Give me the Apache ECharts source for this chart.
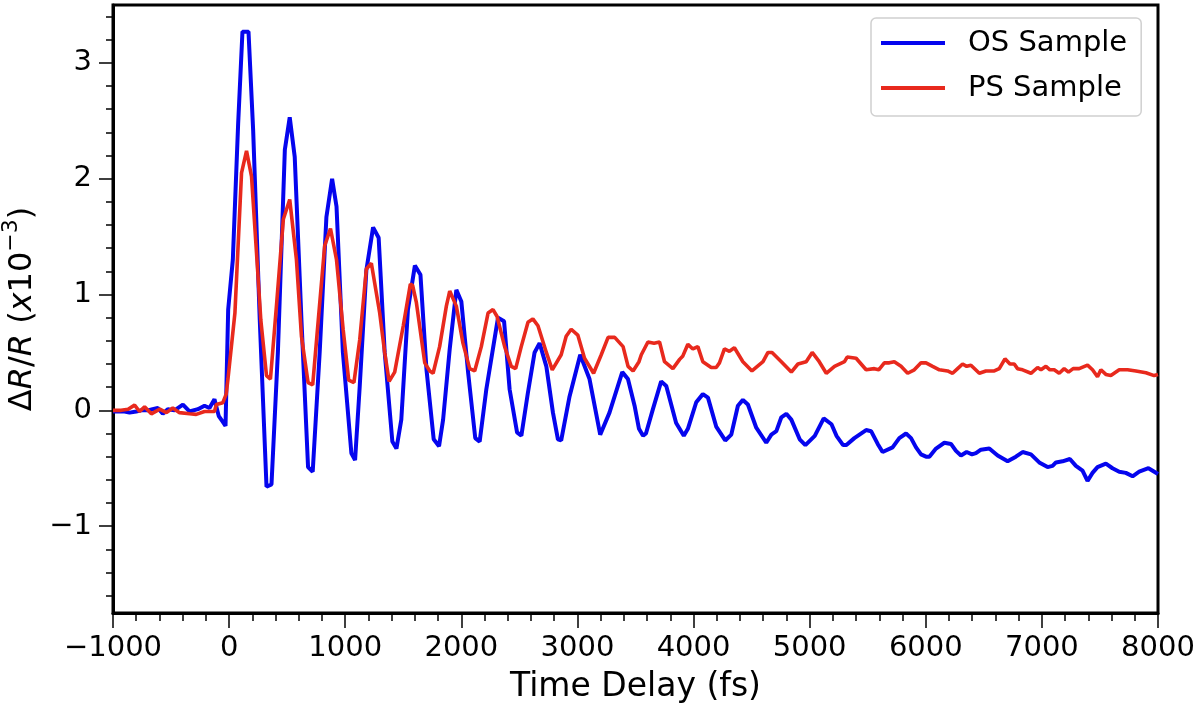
<!DOCTYPE html>
<html>
<head>
<meta charset="utf-8">
<title>Time Delay</title>
<script src="https://cdn.jsdelivr.net/npm/echarts@6/dist/echarts.min.js"></script>
<style>
    html, body { margin: 0; padding: 0; background: #fff; }
    #chart { width: 1200px; height: 710px; }
</style>
</head>
<body>
<div id="chart"></div>
<script>
// 数据：[时间延迟 fs, ΔR/R (x10^-3)]
let osSample = [
    [-1000, -0.01], [-950, -0.01], [-900, -0.01], [-857, -0.02], [-800, -0.01], [-757, 0.0],
    [-700, 0.0], [-660, 0.01], [-614, 0.02], [-571, -0.03], [-528, 0.01], [-470, 0.0],
    [-398, 0.05], [-341, -0.01], [-269, 0.01], [-212, 0.04], [-169, 0.02], [-126, 0.095],
    [-89, -0.05], [-54, -0.1], [-31, -0.135], [-8, 0.87], [32, 1.3], [78, 2.48],
    [115, 3.27], [167, 3.27], [207, 2.42], [264, 0.78], [322, -0.66], [365, -0.64],
    [420, 0.5], [480, 2.25], [522, 2.53], [565, 2.19], [623, 0.78], [680, -0.49],
    [720, -0.53], [780, 0.5], [838, 1.67], [887, 2.0], [925, 1.76], [980, 0.5],
    [1053, -0.37], [1085, -0.43], [1125, 0.21], [1182, 1.21], [1240, 1.58], [1288, 1.49],
    [1340, 0.5], [1406, -0.27], [1441, -0.33], [1483, -0.08], [1540, 0.87], [1600, 1.25],
    [1648, 1.17], [1700, 0.35], [1762, -0.25], [1808, -0.31], [1843, -0.08], [1900, 0.53],
    [1957, 1.04], [2000, 0.94], [2058, 0.33], [2120, -0.24], [2158, -0.27], [2215, 0.18],
    [2316, 0.80], [2368, 0.77], [2416, 0.18], [2480, -0.19], [2517, -0.22], [2573, 0.15],
    [2631, 0.5], [2674, 0.58], [2732, 0.38], [2789, -0.02], [2832, -0.25], [2860, -0.26],
    [2932, 0.12], [3024, 0.48], [3104, 0.27], [3196, -0.21], [3276, -0.02], [3386, 0.33],
    [3435, 0.27], [3492, 0.04], [3530, -0.16], [3565, -0.22], [3590, -0.2], [3650, 0.01],
    [3721, 0.25], [3765, 0.21], [3850, -0.11], [3916, -0.22], [3951, -0.16], [4023, 0.07],
    [4080, 0.14], [4124, 0.11], [4195, -0.14], [4273, -0.26], [4325, -0.21], [4382, 0.04],
    [4425, 0.09], [4468, 0.05], [4540, -0.15], [4626, -0.28], [4670, -0.21], [4713, -0.18],
    [4756, -0.06], [4799, -0.03], [4842, -0.08], [4914, -0.25], [4963, -0.30], [5044, -0.22],
    [5121, -0.07], [5188, -0.12], [5231, -0.22], [5288, -0.30], [5316, -0.30], [5385, -0.24],
    [5486, -0.17], [5529, -0.18], [5586, -0.29], [5628, -0.36], [5714, -0.32], [5772, -0.24],
    [5830, -0.20], [5873, -0.24], [5916, -0.32], [5959, -0.38], [6002, -0.40], [6031, -0.40],
    [6088, -0.33], [6160, -0.28], [6217, -0.29], [6260, -0.35], [6303, -0.39], [6352, -0.36],
    [6398, -0.38], [6432, -0.37], [6475, -0.34], [6547, -0.33], [6619, -0.39], [6705, -0.44],
    [6776, -0.40], [6834, -0.36], [6906, -0.38], [6977, -0.45], [7049, -0.49], [7092, -0.48],
    [7121, -0.45], [7178, -0.44], [7241, -0.42], [7293, -0.48], [7350, -0.52], [7393, -0.61],
    [7436, -0.54], [7479, -0.49], [7551, -0.46], [7608, -0.50], [7666, -0.53], [7723, -0.54],
    [7781, -0.57], [7838, -0.53], [7918, -0.50], [8000, -0.55]
];

let psSample = [
    [-1000, 0.0], [-930, 0.0], [-870, 0.01], [-814, 0.045], [-771, -0.01], [-728, 0.03],
    [-670, -0.03], [-597, 0.01], [-540, -0.02], [-485, 0.02], [-427, -0.02], [-341, -0.03],
    [-283, -0.035], [-212, -0.01], [-126, -0.01], [-110, 0.05], [-54, 0.066], [-25, 0.14],
    [-10, 0.27], [50, 0.84], [107, 2.05], [150, 2.24], [193, 2.02], [236, 1.36],
    [273, 0.78], [322, 0.3], [356, 0.27], [410, 0.93], [467, 1.65], [522, 1.82],
    [580, 1.3], [623, 0.64], [680, 0.24], [720, 0.22], [768, 0.78], [823, 1.42],
    [873, 1.57], [925, 1.3], [982, 0.7], [1030, 0.26], [1075, 0.24], [1125, 0.61],
    [1182, 1.22], [1225, 1.27], [1297, 0.84], [1340, 0.5], [1378, 0.25], [1426, 0.33],
    [1500, 0.73], [1561, 1.09], [1580, 1.08], [1613, 0.93], [1685, 0.41], [1728, 0.34],
    [1757, 0.32], [1813, 0.55], [1871, 0.9], [1900, 1.03], [1957, 0.9], [2014, 0.58],
    [2072, 0.36], [2115, 0.34], [2172, 0.55], [2230, 0.84], [2273, 0.87], [2308, 0.81],
    [2373, 0.55], [2430, 0.38], [2468, 0.36], [2516, 0.55], [2574, 0.76], [2616, 0.79],
    [2660, 0.73], [2732, 0.5], [2783, 0.35], [2860, 0.48], [2903, 0.64], [2946, 0.70],
    [3003, 0.65], [3061, 0.45], [3139, 0.32], [3205, 0.48], [3264, 0.63], [3321, 0.63],
    [3393, 0.55], [3436, 0.38], [3479, 0.34], [3530, 0.42], [3550, 0.48], [3607, 0.59],
    [3660, 0.58], [3707, 0.59], [3750, 0.42], [3822, 0.36], [3880, 0.44], [3908, 0.47],
    [3951, 0.57], [3994, 0.53], [4037, 0.55], [4080, 0.42], [4152, 0.37], [4195, 0.37],
    [4223, 0.41], [4266, 0.53], [4309, 0.51], [4352, 0.54], [4425, 0.42], [4503, 0.34],
    [4598, 0.42], [4641, 0.50], [4676, 0.50], [4756, 0.42], [4842, 0.33], [4899, 0.40],
    [4970, 0.42], [5022, 0.50], [5076, 0.43], [5143, 0.32], [5214, 0.38], [5300, 0.42],
    [5323, 0.46], [5400, 0.45], [5486, 0.35], [5557, 0.36], [5595, 0.35], [5643, 0.41],
    [5686, 0.41], [5729, 0.42], [5787, 0.38], [5844, 0.32], [5901, 0.35], [5959, 0.41],
    [6002, 0.41], [6059, 0.38], [6117, 0.35], [6188, 0.34], [6231, 0.32], [6274, 0.36],
    [6317, 0.40], [6352, 0.38], [6389, 0.39], [6461, 0.32], [6518, 0.34], [6590, 0.34],
    [6633, 0.36], [6682, 0.445], [6725, 0.40], [6762, 0.40], [6790, 0.36], [6834, 0.35],
    [6906, 0.32], [6963, 0.37], [6992, 0.35], [7035, 0.38], [7069, 0.35], [7106, 0.35],
    [7149, 0.32], [7192, 0.36], [7229, 0.33], [7269, 0.36], [7321, 0.36], [7393, 0.39],
    [7436, 0.35], [7479, 0.29], [7508, 0.35], [7551, 0.31], [7594, 0.30], [7666, 0.35],
    [7738, 0.35], [7810, 0.34], [7896, 0.325], [7967, 0.30], [8000, 0.31]
];

let seriesNames = ['OS Sample', 'PS Sample'];
let yMajorTicks = [-1, 0, 1, 2, 3];
let yMinorTicks = [-1.6, -1.4, -1.2, -0.8, -0.6, -0.4, -0.2, 0.2, 0.4, 0.6, 0.8,
    1.2, 1.4, 1.6, 1.8, 2.2, 2.4, 2.6, 2.8, 3.2, 3.4];

let fontName = 'DejaVu Sans';

function minusLabel(v) {
    // matplotlib 风格的负号
    return v < 0 ? '\u2212' + Math.abs(v) : String(v);
}

let myChart = echarts.init(document.getElementById('chart'));

let tickStyle = { color: '#000', width: 1.5 };

let option = {
    animation: false,
    backgroundColor: '#fff',
    grid: {
        left: 113, right: 42, top: 5, bottom: 97,
        show: true,
        borderColor: '#000',
        borderWidth: 3,
        outerBoundsMode: 'none'
    },
    legend: {
        data: seriesNames,
        orient: 'vertical',
        left: 871,
        top: 18,
        padding: [10, 14, 13, 10],
        itemWidth: 64,
        itemHeight: 4,
        itemGap: 15,
        icon: 'rect',
        borderColor: '#d0d0d0',
        borderWidth: 1.5,
        borderRadius: 5,
        backgroundColor: '#fff',
        textStyle: {
            fontFamily: fontName,
            fontSize: 29,
            color: '#000',
            lineHeight: 30,
            padding: [0, 0, 0, 18]
        }
    },
    xAxis: {
        type: 'value',
        min: -1000,
        max: 8000,
        interval: 1000,
        name: 'Time Delay (fs)',
        nameLocation: 'middle',
        nameGap: 58,
        nameTextStyle: { fontFamily: fontName, fontSize: 33, color: '#000' },
        axisLine: { show: true, onZero: false, lineStyle: { color: '#000', width: 3 } },
        axisTick: { show: true, length: 15, lineStyle: tickStyle },
        minorTick: { show: true, splitNumber: 5, length: 8, lineStyle: tickStyle },
        splitLine: { show: false },
        axisLabel: {
            fontFamily: fontName, fontSize: 29, color: '#000', margin: 21,
            formatter: minusLabel
        }
    },
    yAxis: [{
        type: 'value',
        min: -1.75,
        max: 3.5,
        name: '{n|\u0394}{i|R}{n|/}{i|R}{n| (}{i|x}{n|10}{sup|\u22123}{n|)}',
        nameLocation: 'middle',
        nameGap: 66,
        nameTextStyle: {
            color: '#000',
            rich: {
                n: { fontFamily: fontName, fontSize: 32, color: '#000', lineHeight: 38, verticalAlign: 'bottom' },
                i: { fontFamily: fontName, fontSize: 32, fontStyle: 'italic', color: '#000', lineHeight: 38, verticalAlign: 'bottom' },
                sup: { fontFamily: fontName, fontSize: 22, color: '#000', lineHeight: 38, verticalAlign: 'top', padding: [0, 0, 13, 0] }
            }
        },
        axisLine: { show: true, onZero: false, lineStyle: { color: '#000', width: 3 } },
        axisTick: { show: true, length: 14, lineStyle: tickStyle, customValues: yMajorTicks },
        splitLine: { show: false },
        axisLabel: {
            fontFamily: fontName, fontSize: 29, color: '#000', margin: 21,
            customValues: yMajorTicks,
            formatter: minusLabel
        }
    }, {
        type: 'value',
        min: -1.75,
        max: 3.5,
        position: 'left',
        axisLine: { show: false, onZero: false },
        axisTick: { show: true, length: 7, lineStyle: tickStyle, customValues: yMinorTicks },
        axisLabel: { show: false },
        splitLine: { show: false }
    }],
    series: [{
        name: seriesNames[0],
        type: 'line',
        data: osSample,
        yAxisIndex: 0,
        showSymbol: false,
        color: '#0505ee',
        lineStyle: { color: '#0505ee', width: 4 },
        z: 2
    }, {
        name: seriesNames[1],
        type: 'line',
        data: psSample,
        yAxisIndex: 0,
        showSymbol: false,
        color: '#e8291d',
        lineStyle: { color: '#e8291d', width: 3.6 },
        z: 3
    }]
};

myChart.setOption(option);
</script>
</body>
</html>
